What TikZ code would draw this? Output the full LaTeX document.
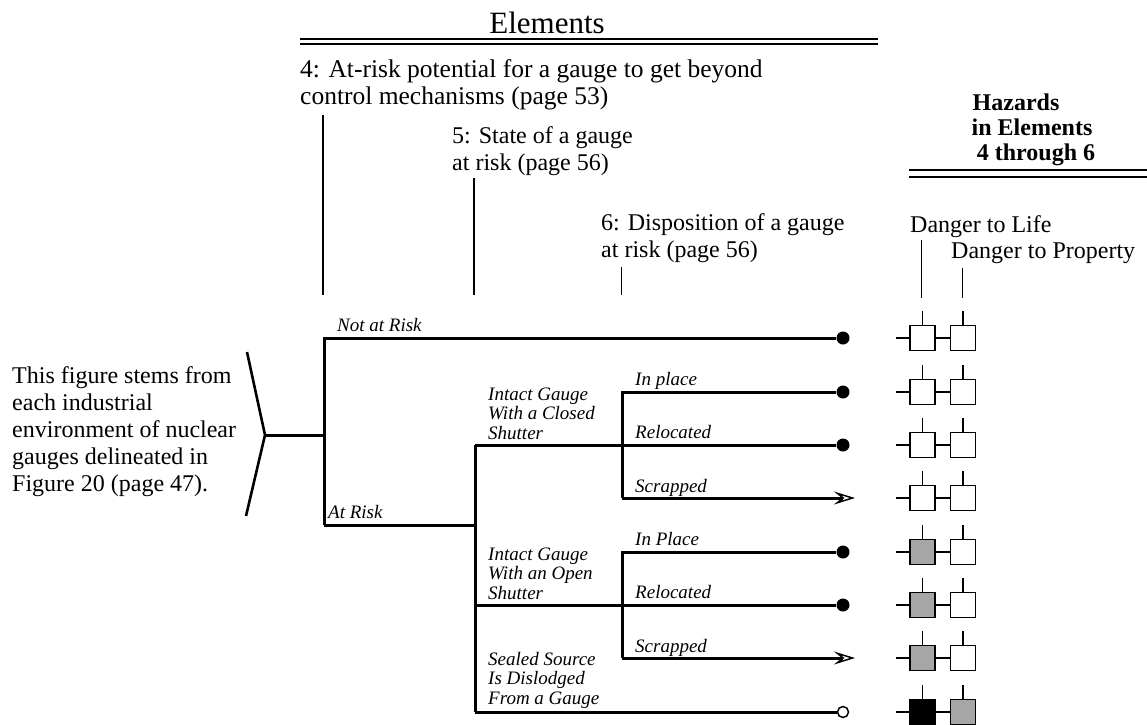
\documentclass[tikz,border=0pt]{standalone}
\usepackage{fontspec}
\setmainfont{Liberation Serif}
\usetikzlibrary{arrows.meta}
\begin{document}
% Multi-line nodes are placed by the baseline of their last line.
\begin{tikzpicture}[x=1pt,y=-1pt,
  txt/.style={inner sep=0pt, anchor=base west, align=left, font=\fontsize{24}{27}\selectfont},
  bigtxt/.style={txt, font=\fontsize{25.5}{27}\selectfont},
  haztxt/.style={inner sep=0pt, anchor=base, font=\fontsize{24}{25}\selectfont\bfseries},
  lab/.style={inner sep=0pt, anchor=base west, align=left, font=\fontsize{19}{19.5}\selectfont\itshape},
  branch/.style={line width=3pt},
  rule/.style={line width=2pt},
  hz/.style={draw, line width=1.6pt, minimum size=25pt, inner sep=0pt},
  tick/.style={line width=1.2pt},
  enddot/.style={circle, fill, inner sep=0pt, minimum size=13pt},
  endopen/.style={circle, draw, line width=1.5pt, fill=white, inner sep=0pt, minimum size=11pt},
  endarrow/.style={-{Stealth[open, length=21pt, width=13pt, inset=8pt, line width=1.5pt]}}
]
\useasboundingbox (0,0) rectangle (1147,724);

% ---- headings ----
\node[inner sep=0pt, anchor=base, font=\fontsize{31}{31}\selectfont] (title) at (547,33) {Elements};
\draw[rule] (300,39) -- (878,39);
\draw[rule] (300,44) -- (878,44);

\node[bigtxt] (h4) at (300,104) {4: At-risk potential for a gauge to get beyond\\control mechanisms (page 53)};
\node[txt] (h5) at (452,170) {5: State of a gauge\\at risk (page 56)};
\node[txt] (h6) at (601,257) {6: Disposition of a gauge\\at risk (page 56)};

\node[haztxt] (haz1) at (1016,110) {Hazards};
\node[haztxt] (haz2) at (1032,135) {in Elements};
\node[haztxt] (haz3) at (1036,160) {4 through 6};
\draw[rule] (909,170) -- (1147,170);
\draw[rule] (909,177) -- (1147,177);
\node[txt] (life) at (910,232) {Danger to Life};
\node[txt] (prop) at (951,258) {Danger to Property};

% ---- leader lines from the column headings ----
\coordinate (l4t) at (323,115); \coordinate (l4b) at (323,295);
\coordinate (l5t) at (474,178); \coordinate (l5b) at (474,295);
\coordinate (l6t) at (621,267); \coordinate (l6b) at (621,295);
\coordinate (lLt) at (921,240); \coordinate (lLb) at (921,298);
\coordinate (lPt) at (962,268); \coordinate (lPb) at (962,298);
\draw[line width=1.2pt] (l4t) -- (l4b);
\draw[line width=2.2pt] (l5t) -- (l5b);
\draw[line width=1pt] (l6t) -- (l6b);
\draw[line width=1pt] (lLt) -- (lLb);
\draw[line width=1pt] (lPt) -- (lPb);

% ---- source text and bracket ----
\node[txt] (src) at (12,491) {This figure stems from\\each industrial\\environment of nuclear\\gauges delineated in\\Figure 20 (page 47).};
\coordinate (bt) at (247,352);
\coordinate (apex) at (265,435);
\coordinate (bb) at (246,516);
\draw[line width=2.6pt] (bt) -- (apex) -- (bb);

% ---- element 4 ----
\coordinate (s4) at (324,435);
\coordinate (s4a) at (324,338);
\coordinate (s4b) at (324,525);
\node[enddot] (e1) at (843,338) {};
\draw[branch] (apex) -- (s4);
\draw[branch] (e1) -- (s4a) -- (s4b);
\node[lab] (notrisk) at (337,331) {Not at Risk};
\node[lab] (atrisk) at (328,518) {At Risk};

% ---- element 5 ----
\coordinate (s5) at (475,525);
\coordinate (s5a) at (475,445);
\coordinate (s5c) at (475,605);
\coordinate (s5d) at (475,712);
\draw[branch] (s4b) -- (s5);
\draw[branch] (s5a) -- (s5d);
\node[lab] (closed) at (488,439) {Intact Gauge\\With a Closed\\Shutter};
\node[lab] (open) at (488,599) {Intact Gauge\\With an Open\\Shutter};
\node[lab] (sealed) at (488,704) {Sealed Source\\Is Dislodged\\From a Gauge};

% ---- element 6, closed shutter ----
\coordinate (c6a) at (622,392);
\coordinate (c6c) at (622,498);
\node[enddot] (e2) at (843,392) {};
\node[enddot] (e3) at (843,445) {};
\coordinate (a4) at (855,498);
\draw[branch] (s5a) -- (e3);
\draw[branch] (e2) -- (c6a) -- (c6c);
\draw[branch, endarrow] (c6c) -- (a4);
\node[lab] (inpl1) at (635,385) {In place};
\node[lab] (reloc1) at (635,438) {Relocated};
\node[lab] (scrap1) at (635,492) {Scrapped};

% ---- element 6, open shutter ----
\coordinate (o6a) at (622,552);
\coordinate (o6c) at (622,658);
\node[enddot] (e5) at (843,552) {};
\node[enddot] (e6) at (843,605) {};
\coordinate (a7) at (855,658);
\draw[branch] (s5c) -- (e6);
\draw[branch] (e5) -- (o6a) -- (o6c);
\draw[branch, endarrow] (o6c) -- (a7);
\node[lab] (inpl2) at (635,545) {In Place};
\node[lab] (reloc2) at (635,598) {Relocated};
\node[lab] (scrap2) at (635,652) {Scrapped};

% ---- dislodged source ----
\node[endopen] (e8) at (843,712) {};
\draw[branch] (s5d) -- (e8);

% ---- hazard boxes ----
\foreach \n/\yy/\fa/\fb in {1/338/white/white, 2/392/white/white, 3/445/white/white,
    4/498/white/white, 5/552/black!35/white, 6/605/black!35/white,
    7/658/black!35/white, 8/712/black/black!35} {
  \node[hz, fill=\fa] (L\n) at (922.5,\yy) {};
  \node[hz, fill=\fb] (P\n) at (963,\yy) {};
  \coordinate (Lin\n) at (896,\yy);
  \coordinate (Ltop\n) at (922.5,\yy-27);
  \coordinate (Ptop\n) at (963,\yy-27);
  \draw[tick] (Lin\n) -- (L\n);
  \draw[tick] (L\n) -- (P\n);
  \draw[tick] (Ltop\n) -- (L\n);
  \draw[tick] (Ptop\n) -- (P\n);
}
\end{tikzpicture}
\end{document}
